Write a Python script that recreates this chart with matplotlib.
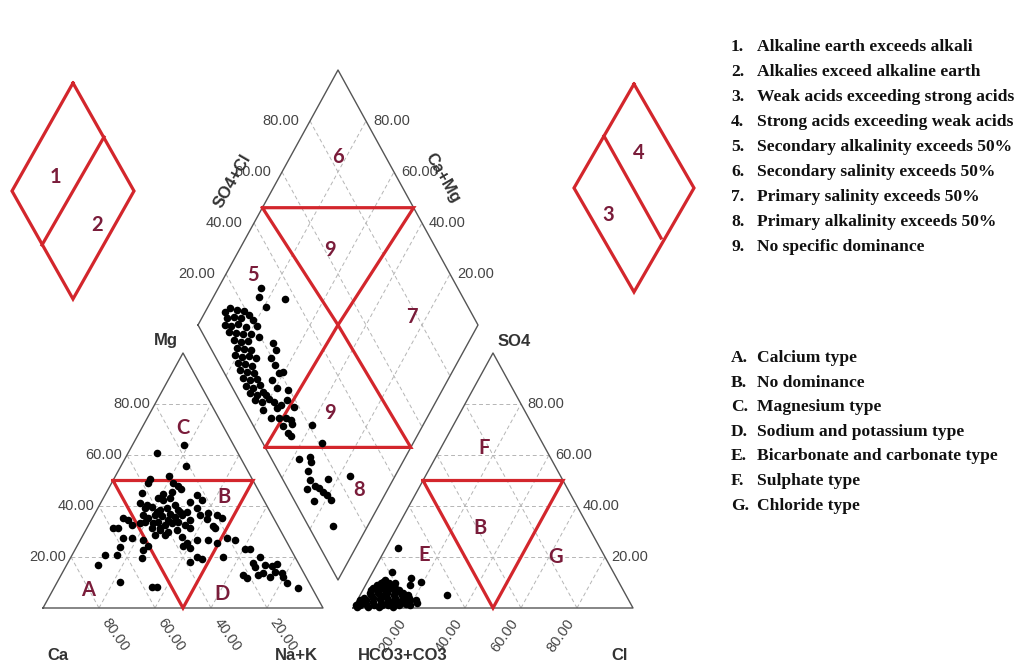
import matplotlib
matplotlib.use("Agg")
import matplotlib.pyplot as plt

# ---- data (percent of meq) ----
# cation triangle: Mg and Na+K (Ca is the remainder)
cat_mg = [63.9, 60.9, 55.7, 50.5, 51.8, 49.1, 48.9, 47.8, 46.5, 45.0, 44.7, 45.6, 43.0, 43.0,
          44.3, 42.4, 41.7, 41.3, 40.4, 39.7, 38.4, 39.1, 38.4, 37.8, 39.1, 37.1, 36.5, 36.5,
          35.2, 34.8, 35.2, 34.5, 36.5, 35.2, 36.5, 36.1, 36.9, 35.6, 36.5, 31.3, 31.3, 32.5,
          33.2, 33.8, 33.2, 33.8, 32.5, 33.2, 33.8, 32.5, 34.5, 31.3, 30.6, 29.9, 30.6, 31.3,
          32.2, 31.3, 27.3, 27.6, 26.7, 28.6, 28.6, 28.0, 25.4, 26.7, 26.7, 25.4, 27.3, 26.7,
          24.3, 23.4, 24.0, 22.7, 24.3, 19.9, 19.1, 18.0, 20.1, 23.0, 23.0, 19.9, 20.8, 20.8,
          19.5, 16.9, 17.5, 16.2, 16.9, 16.5, 17.3, 12.9, 13.6, 12.3, 14.2, 13.6, 12.3, 12.9,
          11.6, 10.3, 9.7, 8.0, 8.4, 8.4, 42.4, 40.4, 37.6, 34.5, 37.6, 39.2, 31.4]
cat_nak = [18.5, 10.3, 23.2, 12.8, 19.1, 13.0, 22.0, 24.4, 26.0, 13.0, 20.6, 23.2, 23.9, 19.7,
           33.0, 35.5, 31.7, 14.0, 16.8, 19.0, 22.6, 24.6, 29.1, 32.4, 35.3, 40.5, 37.9, 43.8,
           46.2, 41.1, 11.1, 13.2, 17.6, 20.0, 21.8, 24.4, 27.0, 29.3, 31.3, 9.5, 11.3, 15.4,
           18.0, 19.5, 22.8, 24.3, 27.3, 29.4, 31.4, 34.5, 35.2, 36.9, 32.5, 29.8, 26.5, 23.2,
           44.7, 45.8, 15.0, 17.9, 22.5, 25.7, 29.3, 35.5, 38.6, 41.6, 45.7, 49.3, 52.0, 55.2,
           38.0, 40.8, 15.5, 24.5, 25.5, 45.0, 47.1, 43.5, 54.3, 60.6, 62.4, 67.5, 11.7, 15.9,
           25.5, 11.3, 66.4, 67.6, 70.8, 73.4, 74.8, 70.4, 71.9, 74.9, 75.8, 78.4, 79.7, 65.1,
           67.0, 22.4, 82.2, 87.2, 34.6, 36.4, 21.7, 26.9, 21.9, 27.4, 30.1, 16.8, 26.1]

# anion triangle: SO4 and Cl (HCO3+CO3 is the remainder)
an_so4 = [23.4, 14.0, 11.9, 10.3, 9.0, 5.1, 10.3, 9.7,
          1, 2, 1.5, 3, 2.5, 4, 4, 5, 3.5, 5, 6, 6, 7, 2, 3, 4, 5, 6, 7, 8, 8, 9, 1, 2, 3, 4,
          5, 6, 7, 8, 1, 2, 3, 4, 5, 6, 2, 3, 1, 1, 2, 0.5, 0.5, 1, 9, 10, 10, 11, 7, 5, 0.5,
          1.5, 2, 3, 4, 7, 8, 9, 0.5, 1, 3, 2]
an_cl = [4.3, 6.8, 14.8, 19.0, 15.9, 30.9, 5.7, 10.2,
         2, 1, 4, 3, 6, 2, 5, 4, 8, 7, 3, 6, 5, 9, 11, 10, 9, 9, 8, 6, 9, 7, 12, 13, 14, 13,
         12, 12, 11, 11, 16, 16, 17, 16, 15, 15, 19, 19, 20, 7, 3, 5, 9, 10, 4, 5, 8, 6, 13, 17,
         14, 18, 22, 21, 18, 3, 3, 10, 1, 0.5, 1, 11]

# diamond: SO4+Cl and Na+K (Ca+Mg = 100 - Na+K)
dia_so4cl = [12.1, 14.7, 16.8, 19.1, 20.1, 11.7, 14.3, 16.6, 20.5, 9.6, 11.5, 14.4, 16.6, 20.7,
             9.6, 12.0, 14.2, 17.0, 19.3, 9.8, 11.9, 14.6, 9.3, 11.6, 13.9, 7.2, 9.3, 12.0,
             14.1, 6.7, 9.0, 11.1, 6.1, 8.2, 10.5, 5.6, 7.7, 10.3, 5.1, 7.2, 10.3, 5.1, 7.2,
             9.9, 5.5, 7.6, 10.7, 23.1, 23.1, 19.4, 19.8, 19.7, 15.8, 15.7, 21.0, 10.7, 12.2,
             14.1, 17.2, 6.4, 7.7, 10.5, 13.0, 14.7, 10.7, 14.3, 11.1, 11.6, 29.6, 27.2, 36.3,
             28.0, 21.1, 21.0, 9.7, 14.3, 13.7, 10.7, 9.7, 16.1, 24.7, 6.8, 10.3, 11.3, 12.1,
             12.7, 13.2, 6.8, 8.7, 19.5, 11.9, 18.4]
dia_nak = [7.0, 8.0, 10.9, 13.6, 16.2, 8.9, 11.2, 13.9, 18.5, 9.6, 11.9, 14.0, 17.4, 21.1,
           12.4, 15.0, 17.7, 20.6, 24.0, 15.7, 18.6, 20.9, 18.4, 21.0, 23.7, 19.0, 21.9, 24.2,
           27.0, 21.7, 24.3, 27.2, 23.7, 26.6, 29.3, 26.4, 29.3, 31.5, 29.0, 31.9, 33.8, 31.8,
           34.7, 36.2, 34.9, 37.8, 39.7, 30.2, 32.9, 32.4, 35.5, 38.5, 37.4, 40.4, 39.4, 38.2,
           42.4, 45.5, 46.6, 39.7, 44.2, 47.0, 49.5, 52.0, 50.3, 53.1, 53.5, 55.1, 15.1, 16.2,
           26.1, 20.9, 60.3, 67.4, 62.2, 65.9, 67.3, 67.8, 70.5, 76.6, 83.9, 71.0, 73.4, 75.3,
           77.5, 79.4, 81.8, 75.7, 87.4, 45.0, 44.6, 50.4]

tick_vals = [20, 40, 60, 80]

zones_diamond = ["1.", "2.", "3.", "4.", "5.", "6.", "7.", "8.", "9."]
zones_diamond_txt = ["Alkaline earth exceeds alkali",
                     "Alkalies exceed alkaline earth",
                     "Weak acids exceeding strong acids",
                     "Strong acids exceeding weak acids",
                     "Secondary alkalinity exceeds 50%",
                     "Secondary salinity exceeds 50%",
                     "Primary salinity exceeds 50%",
                     "Primary alkalinity exceeds 50%",
                     "No specific dominance"]
zones_tri = ["A.", "B.", "C.", "D.", "E.", "F.", "G."]
zones_tri_txt = ["Calcium type", "No dominance", "Magnesium type",
                 "Sodium and potassium type", "Bicarbonate and carbonate type",
                 "Sulphate type", "Chloride type"]

# ---- geometry (pixel space of the figure) ----
L, H = 280, 255          # triangle side (horizontal) and height
BASE = 608               # y of triangle bases
XC, XA = 43, 353         # left corners of cation / anion triangles
DX, DY = 198, 325        # left vertex of diamond

def cat_xy(mg, nak):
    return XC + L * (nak + mg / 2) / 100, BASE - H * mg / 100

def an_xy(so4, cl):
    return XA + L * (cl + so4 / 2) / 100, BASE - H * so4 / 100

def dia_xy(s, n):
    return DX + L / 2 * (s + n) / 100, DY - H * (s - n) / 100

def line(ax, f, a, b, **kw):
    p, q = f(*a), f(*b)
    ax.plot([p[0], q[0]], [p[1], q[1]], **kw)

def poly(ax, f, pts, **kw):
    xy = [f(*p) for p in pts] + [f(*pts[0])]
    ax.plot([p[0] for p in xy], [p[1] for p in xy], **kw)

RED = "#D3262C"
ZONE = "#7A1C3A"
OUT = dict(color="#555555", lw=1.0, zorder=2)
GRID = dict(color="#B5B5B5", lw=0.7, ls=(0, (4, 3)), zorder=1)
RLINE = dict(color=RED, lw=2.3, zorder=3, solid_joinstyle="miter")
TICK = dict(fontsize=10.5, color="#444444", family="Liberation Sans")
AXL = dict(fontsize=12, color="#333333", family="Liberation Sans", fontweight="bold",
           ha="center", va="center")
ZFONT = dict(fontsize=14.5, color=ZONE, family="Lato", fontweight="bold",
             ha="center", va="center")

fig = plt.figure(figsize=(10.23, 6.66), dpi=100)
ax = fig.add_axes([0, 0, 1, 1])
ax.set_xlim(0, 1023)
ax.set_ylim(666, 0)
ax.axis("off")

# triangles
for f in (cat_xy, an_xy):
    for v in tick_vals:
        line(ax, f, (v, 0), (v, 100 - v), **GRID)
        line(ax, f, (0, v), (100 - v, v), **GRID)
        line(ax, f, (0, 100 - v), (100 - v, 0), **GRID)
    poly(ax, f, [(0, 0), (0, 100), (100, 0)], **OUT)
    poly(ax, f, [(50, 0), (50, 50), (0, 50)], **RLINE)

# diamond
for v in tick_vals:
    line(ax, dia_xy, (v, 0), (v, 100), **GRID)
    line(ax, dia_xy, (0, v), (100, v), **GRID)
poly(ax, dia_xy, [(0, 0), (100, 0), (100, 100), (0, 100)], **OUT)
poly(ax, dia_xy, [(46, 0), (100, 54), (50, 50)], **RLINE)
poly(ax, dia_xy, [(0, 48), (52, 100), (50, 50)], **RLINE)

# samples
MS = 30
cx, cy = zip(*[cat_xy(m, n) for m, n in zip(cat_mg, cat_nak)])
ax.scatter(cx, cy, s=MS, color="black", zorder=4, linewidths=0)
axx, ayy = zip(*[an_xy(s, c) for s, c in zip(an_so4, an_cl)])
ax.scatter(axx, ayy, s=MS, color="black", zorder=4, linewidths=0)
dx, dy = zip(*[dia_xy(s, n) for s, n in zip(dia_so4cl, dia_nak)])
ax.scatter(dx, dy, s=MS, color="black", zorder=4, linewidths=0)

# tick labels
for v in tick_vals:
    lab = f"{v:.2f}"
    x, y = cat_xy(v, 0)
    ax.text(x - 5, y, lab, ha="right", va="center", **TICK)
    x, y = cat_xy(0, 100 - v)
    ax.text(x + 6, y + 12, lab, ha="left", va="center", rotation=-55,
            rotation_mode="anchor", **TICK)
    x, y = an_xy(v, 100 - v)
    ax.text(x + 6, y, lab, ha="left", va="center", **TICK)
    x, y = an_xy(0, v)
    ax.text(x - 6, y + 12, lab, ha="right", va="center", rotation=55,
            rotation_mode="anchor", **TICK)
    x, y = dia_xy(v, 0)
    ax.text(x - 11, y, lab, ha="right", va="center", **TICK)
    x, y = dia_xy(100, 100 - v)
    ax.text(x + 7, y, lab, ha="left", va="center", **TICK)

# axis names
ax.text(166, 340, "Mg", **AXL)
ax.text(58, 655, "Ca", **AXL)
ax.text(296, 655, "Na+K", **AXL)
ax.text(514, 341, "SO4", **AXL)
ax.text(403, 655, "HCO3+CO3", **AXL)
ax.text(620, 655, "Cl", **AXL)
ax.text(232, 181, "SO4+Cl", rotation=60, **AXL)
ax.text(443, 178, "Ca+Mg", rotation=-60, **AXL)

# zone letters / numbers
for t, x, y in [("A", 88, 590), ("C", 183, 428), ("B", 224, 497), ("D", 222, 594),
                ("F", 484, 448), ("B", 480, 528), ("E", 424, 555), ("G", 556, 557),
                ("6", 338, 157), ("9", 330, 250), ("5", 253, 275), ("7", 412, 317),
                ("9", 330, 413), ("8", 359, 490),
                ("1", 55, 177), ("2", 97, 225), ("4", 639, 153), ("3", 608, 215)]:
    ax.text(x, y, t, **ZFONT)

# small key diamonds
def key_diamond(cx0, cy0, hw, hh, p, q):
    xs = [cx0, cx0 + hw, cx0, cx0 - hw, cx0]
    ys = [cy0 - hh, cy0, cy0 + hh, cy0, cy0 - hh]
    ax.plot(xs, ys, **RLINE)
    ax.plot([p[0], q[0]], [p[1], q[1]], **RLINE)

key_diamond(73, 191, 61, 108, (104, 137), (42, 245))
key_diamond(634, 188, 60, 104, (604, 136), (661, 238))

# legend text
SERIF = dict(fontsize=12.6, family="Liberation Serif", fontweight="bold",
             color="#111111", va="center")
for i, (k, t) in enumerate(zip(zones_diamond, zones_diamond_txt)):
    ax.text(731, 47 + 25 * i, k, ha="left", **SERIF)
    ax.text(757, 47 + 25 * i, t, ha="left", **SERIF)
for i, (k, t) in enumerate(zip(zones_tri, zones_tri_txt)):
    ax.text(731, 358 + 24.6 * i, k, ha="left", **SERIF)
    ax.text(757, 358 + 24.6 * i, t, ha="left", **SERIF)

fig.savefig("out.png", dpi=100)
